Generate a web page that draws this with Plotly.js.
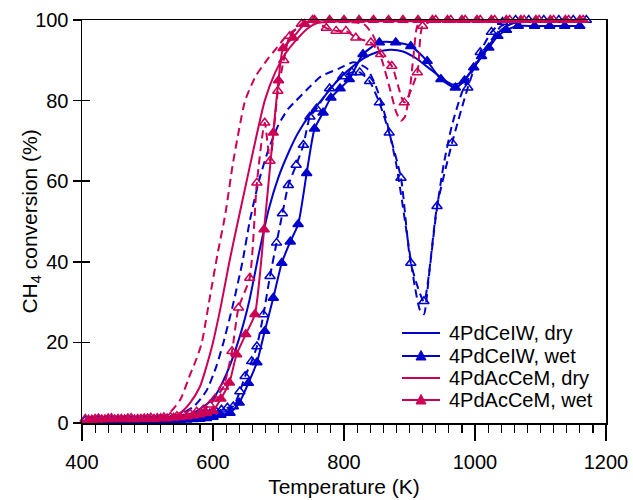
<!DOCTYPE html>
<html>
<head>
<meta charset="utf-8">
<script src="https://cdn.plot.ly/plotly-3.0.1.min.js"></script>
<style>html,body{margin:0;padding:0;background:#fff;}#chart{width:633px;height:500px;}</style>
</head>
<body>
<div id="chart"></div>
<script>
// ---- data (Temperature in K, CH4 conversion in %) ----
const seriesNames = ["4PdCeIW, dry", "4PdCeIW, wet", "4PdAcCeM, dry", "4PdAcCeM, wet"];
const xTicks = [400, 600, 800, 1000, 1200];
const yTicks = [0, 20, 40, 60, 80, 100];

// 4PdCeIW dry, run 1 (solid)
const bDryX = [400,450,500,540,570,600,620,640,655,670,685,700,715,730,750,770,790,810,830,850,870,890,910,930,950,965,980,995,1010,1025,1040,1055,1075,1100,1130,1170];
const bDryY = [0.3,0.4,0.6,1.2,2.5,6,12,21,30,42,53,61,67,72,77,81,85,88,90.5,92,92.6,92.2,90.5,88,85.5,84,84.5,87.5,91,94.5,97.5,99,99.5,99.5,99.5,99.5];
// 4PdCeIW dry, run 2 (dashed)
const bDry2X = [400,450,500,540,570,590,605,616,630,645,656,670,685,700,715,727,745,765,793,815,835,850,865,880,895,908,916,922,930,940,952,965,980,995,1010,1025,1040,1060,1100,1170];
const bDry2Y = [0.3,0.4,0.6,1.5,4,8,14,20,29,40,50,60,68,74,78,80,83,86,88,89.5,88,83,75,64,48,34,28,27,37,51,64,74,82,87,91,95,98.5,99.5,99.5,99.5];
// 4PdCeIW wet, run 1 (solid, filled triangles)
const bWetX = [410,420,430,440,450,460,470,480,490,500,510,520,530,540,550,560,570,580,590,600,612,626,640,654,667,679,692,705,718,730,743,755,768,780,794,808,829,854,879,902,927,948,970,984,998,1010,1021,1035,1048,1066,1091,1114,1137,1160];
const bWetY = [0.5,0.5,0.6,0.5,0.6,0.5,0.6,0.5,0.6,0.5,0.6,0.5,0.6,0.7,0.7,0.8,0.9,1,1.2,1.5,2,2.5,5,9.9,15,22.8,31,39.7,45,49.3,62,73,77,80.7,83,85.3,91.5,94.4,94.4,93.5,89.8,85.3,83.2,85,88.2,91,93.1,96,97.5,98.5,98.5,98.5,98.5,98.5];
// 4PdCeIW wet, run 2 (dashed, open triangles)
const bWet2X = [405,415,425,435,445,455,465,475,485,495,505,515,525,535,545,555,565,575,585,595,605,613,622,631,641,649,659,667,677,687,697,706,715,727,738,748,758,778,798,812,824,839,854,869,887,902,922,942,965,989,1008,1025,1042,1062,1082,1105,1128,1150,1170];
const bWet2Y = [0.6,0.5,0.6,0.7,0.6,0.5,0.7,0.6,0.5,0.7,0.6,0.7,0.8,0.7,0.9,1,1.2,1.5,2,2.3,2.8,3.3,3.8,4.1,7.8,11.6,15.3,19,26.9,36.4,44.7,52,59,64,69,76,78,83,86,87,87,84.8,79.5,72,60.8,39.7,30.2,53.8,69.5,83.2,92,97,99.5,100,100,100,100,100,100];

// 4PdAcCeM dry, run 1 (solid)
const rDryX = [400,450,500,530,550,565,580,590,600,612,625,638,650,662,679,695,712,727,743,760,790,830,900,1000,1100,1170];
const rDryY = [0.4,0.5,0.7,1.2,2.5,5,9,14,20,29,40,50,59,68,80,87,92,95,97.7,99.3,99.6,99.7,99.7,99.7,99.7,99.7];
// 4PdAcCeM dry, run 2 (dashed)
const rDry2X = [400,450,500,530,550,565,575,583,595,607,619,630,640,649,665,682,697,712,740,770,800,830,845,858,870,880,887,893,900,906,912,920,960,1000,1050,1100,1170];
const rDry2Y = [0.4,0.5,0.8,2,5.8,12,16,20,31,42,52,64,73,80,86,90,93,96,99,99.5,99.5,99,96,90,83,77,75,76,82,91,98.5,99.7,99.7,99.7,99.7,99.7,99.7];
// 4PdAcCeM wet, run 1 (solid, filled triangles)
const rWetX = [410,420,430,440,450,460,470,480,490,500,510,520,530,540,550,560,570,580,590,600,612,625,636,650,664,678,692,700,707,722,740,755,778,800,823,845,868,890,913,935,958,980,1003,1025,1048,1070,1093,1115,1138,1160];
const rWetY = [0.8,1,0.9,1.1,0.9,1,1.1,0.9,1,1.1,1,1.2,1.1,1.3,1.4,1.6,1.8,2.1,2.5,3,6,10,17,22,27,48,72,85,93,95.6,99,100,100,100,100,100,100,100,100,100,100,100,100,100,100,100,100,100,100,100];
// 4PdAcCeM wet, run 2 (dashed, open triangles)
const rWet2X = [405,415,425,435,445,455,465,475,485,495,505,515,525,535,545,555,565,575,585,595,603,616,629,639,656,667,679,687,699,708,717,735,752,773,788,803,818,841,856,873,892,912,920,940,963,985,1008,1030,1053,1075,1098,1120,1143,1165];
const rWet2Y = [1,0.8,1.1,0.9,1.2,1,0.9,1.2,1,1.1,1.3,1.2,1.4,1.5,1.7,2,2.3,2.8,3.3,4.5,6,9,17.8,28.6,36,59.6,74.5,65,82.4,90,96,99,100,98,97.3,97.3,95.6,94.4,91.5,88.6,79.5,87,98.5,100,100,100,100,100,100,100,100,100,100,100];

const BLUE = '#0000CC';
const RED = '#CC0055';
const DASH = '8px,5px';

function lineTrace(x, y, color, dash) {
  return {x: x, y: y, type: 'scatter', mode: 'lines', showlegend: false,
    line: {color: color, width: 2, dash: dash, shape: 'spline', smoothing: 0.6}, cliponaxis: false, hoverinfo: 'skip'};
}
function markTrace(x, y, color, dash, symbol) {
  return {x: x, y: y, type: 'scatter', mode: 'lines+markers', showlegend: false,
    line: {color: color, width: 2, dash: dash, shape: 'spline', smoothing: 0.6},
    marker: {symbol: symbol, size: 9, color: color, line: {color: color, width: 1.5}},
    cliponaxis: false, hoverinfo: 'skip'};
}

const traces = [
  lineTrace(bDry2X, bDry2Y, BLUE, DASH),
  markTrace(bWet2X, bWet2Y, BLUE, DASH, 'triangle-up-open'),
  lineTrace(bDryX, bDryY, BLUE, 'solid'),
  markTrace(bWetX, bWetY, BLUE, 'solid', 'triangle-up'),
  lineTrace(rDry2X, rDry2Y, RED, DASH),
  markTrace(rWet2X, rWet2Y, RED, DASH, 'triangle-up-open'),
  lineTrace(rDryX, rDryY, RED, 'solid'),
  markTrace(rWetX, rWetY, RED, 'solid', 'triangle-up'),
  // carrier for the inner half of the crossing y ticks
  {x: [400], y: [0], yaxis: 'y2', type: 'scatter', mode: 'markers', marker: {opacity: 0, size: 1}, showlegend: false, hoverinfo: 'skip'}
];

const FONT = 'Liberation Sans, Arial, sans-serif';

// ---- hand-placed legend (rows in paper fractions) ----
const legendColors = [BLUE, BLUE, RED, RED];
const legendMarker = [false, true, false, true];
const legendRowY = [0.2233, 0.1663, 0.1117, 0.0571];
const shapes = [];
const annotations = [];
for (let i = 0; i < 4; i++) {
  shapes.push({type: 'line', xref: 'paper', yref: 'paper', x0: 0.6107, x1: 0.6832, y0: legendRowY[i], y1: legendRowY[i],
    line: {color: legendColors[i], width: 2}});
  if (legendMarker[i]) {
    shapes.push({type: 'path', xref: 'paper', yref: 'paper', xsizemode: 'pixel', ysizemode: 'pixel',
      xanchor: 0.647, yanchor: legendRowY[i], path: 'M -5,-4 L 5,-4 L 0,5.5 Z',
      fillcolor: legendColors[i], line: {color: legendColors[i], width: 1}});
  }
  annotations.push({xref: 'paper', yref: 'paper', x: 0.6966, y: legendRowY[i], xanchor: 'left', yanchor: 'middle',
    text: seriesNames[i], showarrow: false, font: {family: FONT, size: 20, color: '#000'}});
}
annotations.push({xref: 'paper', yref: 'paper', x: -0.099, y: 0.5, xanchor: 'center', yanchor: 'middle', textangle: -90,
  text: 'CH<sub>4</sub> conversion (%)', showarrow: false, font: {family: FONT, size: 21, color: '#000'}});

const layout = {
  width: 633, height: 500,
  margin: {l: 82, r: 27, t: 20, b: 77},
  paper_bgcolor: '#fff', plot_bgcolor: '#fff',
  font: {family: FONT, size: 20, color: '#000'},
  showlegend: false,
  shapes: shapes,
  annotations: annotations,
  xaxis: {range: [400, 1200], tickvals: xTicks, ticktext: xTicks.map(String), ticks: 'outside', ticklen: 16, tickwidth: 1.5,
    tickcolor: '#000', showline: true, linecolor: '#000', linewidth: 1.5, mirror: true, showgrid: false, zeroline: false,
    minor: {dtick: 20, tick0: 400, ticks: 'outside', ticklen: 8, tickwidth: 1.2, tickcolor: '#000', showgrid: false},
    ticklabelstandoff: 4,
    tickfont: {family: FONT, size: 20}, title: {text: 'Temperature (K)', font: {family: FONT, size: 21}, standoff: 8}},
  yaxis: {range: [0, 100], tickvals: yTicks, ticks: 'outside', ticklen: 8, tickwidth: 1.5, tickcolor: '#000',
    showline: true, linecolor: '#000', linewidth: 1.5, mirror: true, showgrid: false, zeroline: false,
    tickfont: {family: FONT, size: 20}},
  yaxis2: {range: [0, 100], overlaying: 'y', side: 'left', tickvals: yTicks, ticks: 'inside', ticklen: 8, tickwidth: 1.5,
    tickcolor: '#000', showticklabels: false, showline: false, showgrid: false, zeroline: false}
};

Plotly.newPlot('chart', traces, layout, {displayModeBar: false, staticPlot: true});
</script>
</body>
</html>
